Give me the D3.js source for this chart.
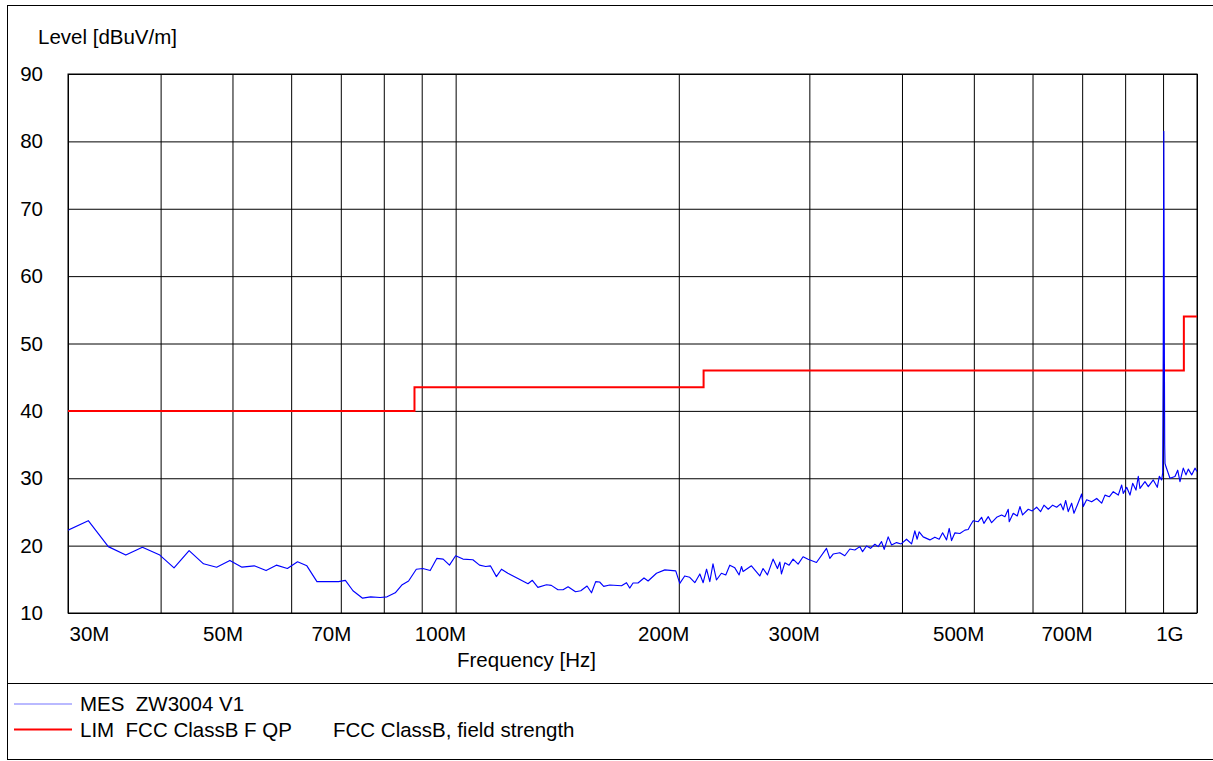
<!DOCTYPE html>
<html><head><meta charset="utf-8">
<script src="https://cdn.jsdelivr.net/npm/d3@7"></script>
<style>
body{margin:0;background:#fff}
svg{display:block}
text{font-family:"Liberation Sans",Arial,sans-serif;fill:#000;white-space:pre}
</style>
</head><body>
<svg id="c" width="1213" height="761"></svg>
<script>
// ---- data (frequency in MHz, level in dBuV/m) ----
const mesFreq=[30.0,31.95,34.0,35.9,37.8,39.9,41.7,43.7,45.7,47.6,49.6,51.5,53.5,55.5,57.3,59.3,61.2,63.0,65.0,69.5,71.0,72.7,74.9,76.8,79.1,80.8,82.9,84.6,86.4,88.5,90.3,92.4,94.3,96.2,98.1,100,
102.3,105.5,107.7,109.8,111.4,113.5,115.3,117.6,125.2,126.9,129.1,132.6,134.6,137.4,139.6,141.8,145.1,147.5,150.4,152.5,154.5,156.4,158.4,161.4,167.4,170.0,171.7,173.5,176.2,179.5,181.8,186.6,191.5,198.1,
200.6,203.7,206.9,210.2,213.5,215.7,218.0,220.2,222.4,224.8,228.3,231.4,234.3,238.0,241.2,243.0,244.2,250.6,253.2,257.2,259.8,263.4,268.0,271.7,273.7,275.1,278.0,281.7,285.2,289.7,294.2,298.8,
306.7,316.4,319.7,323.0,329.8,334.9,340.2,345.5,350.9,353.9,358.3,362.8,367.7,371.5,375.4,378.5,383.2,387.3,393.3,399.0,405.7,412.1,416.3,419.3,421.9,427.2,436.2,443.0,449.0,453.8,459.4,463.2,466.6,471.5,478.8,486.3,491.3,495.0,499.0,
506.9,512.2,515.9,522.9,528.4,536.7,545.1,550.7,556.4,558.1,565.1,572.2,577.0,581.8,592.1,599.5,607.7,615.3,621.7,630.0,638.7,646.7,654.7,660.1,665.0,670.4,677.5,682.4,689.4,698.9,702.4,709.8,721.0,732.3,743.7,751.4,761.5,771.0,783.1,791.4,795.3,
803.8,812.1,818.9,827.4,833.3,837.7,850.8,859.6,873.0,884.0,889.5,896.1,898.9,900.5,902.0,903.5,904.5,905.4,908.2,919.5,933.9,941.8,948.5,958.3,966.4,973.3,983.7,993.8,1000];
const mesLevel=[22.3,23.7,19.85,18.6,19.75,18.6,16.7,19.25,17.3,16.8,17.8,16.8,17.0,16.3,17.1,16.6,17.6,17.0,14.65,14.65,14.85,13.3,12.2,12.4,12.3,12.4,13.0,14.15,14.75,16.5,16.6,16.3,18.1,18.0,17.1,18.5,
18.0,17.9,17.1,16.9,17.0,15.4,16.5,15.9,14.35,14.85,13.8,14.2,14.1,13.45,13.45,13.9,13.15,13.3,14.0,13.0,14.65,14.6,13.95,14.15,14.05,14.5,13.7,14.45,14.45,15.2,14.75,15.9,16.4,16.25,
14.4,15.5,15.3,14.5,15.8,14.5,16.5,14.65,17.3,14.9,15.9,15.65,17.1,16.7,15.65,16.9,16.15,17.0,16.4,15.5,16.6,15.65,18.0,16.6,17.55,15.8,17.45,17.1,18.0,17.25,18.35,17.97,
17.5,19.6,18.1,18.75,18.95,18.5,19.5,19.35,19.85,19.1,19.95,19.6,20.2,19.85,20.6,19.45,21.3,20.1,20.45,20.25,20.95,20.25,22.2,20.95,22.05,21.3,20.85,21.25,20.95,21.9,20.85,22.55,20.75,21.9,21.8,22.3,22.4,23.05,23.7,
23.55,24.2,23.3,24.3,23.4,24.2,24.55,24.3,25.4,23.55,24.8,24.4,25.8,24.55,25.4,25.15,25.7,25.05,26.0,25.4,26.0,25.7,26.2,25.3,26.7,25.05,26.3,24.8,26.0,27.65,25.8,26.8,26.5,27.0,26.3,27.5,27.25,28.0,27.5,29.0,27.75,
28.65,27.5,29.25,28.25,30.3,28.5,29.5,28.75,29.75,28.65,30.3,29.75,30.8,50,81.5,50,35,32.2,31.7,30.0,30.25,31.2,29.5,31.5,30.5,31.35,30.5,31.5,31.0];

const limFreq=[30,88,88,216,216,960,960,1000];
const limLevel=[40,40,43.5,43.5,46,46,54,54];

const yTicks=[10,20,30,40,50,60,70,80,90];
const gridFreqs=[30,40,50,60,70,80,90,100,200,300,400,500,600,700,800,900,1000];
const xTickVals=[30,50,70,100,200,300,500,700,1000];
const xTickLabels=["30M","50M","70M","100M","200M","300M","500M","700M","1G"];

const legendItems=[
  {label:"MES  ZW3004 V1", extra:"", color:"#0000ff"},
  {label:"LIM  FCC ClassB F QP", extra:"FCC ClassB, field strength", color:"#ff0000"}
];

// ---- layout ----
const L=68, R=1197, T=74, B=613;
const FS=20.5;
const FF='"Liberation Sans",Arial,sans-serif';
const svg=d3.select("#c");
svg.append("rect").attr("width",1213).attr("height",761).attr("fill","#fff");

const x=d3.scaleLog().domain([30,1000]).range([L,R]);
const y=d3.scaleLinear().domain([10,90]).range([B,T]);

// outer frame and separator
svg.append("rect").attr("x",7.5).attr("y",5.5).attr("width",1213).attr("height",754)
  .attr("fill","none").attr("stroke","#000").attr("stroke-width",1);
svg.append("line").attr("x1",7).attr("x2",1213).attr("y1",683.5).attr("y2",683.5)
  .attr("stroke","#000").attr("stroke-width",1);

// grid via axes
const gy=svg.append("g").attr("transform",`translate(${L},0)`)
  .call(d3.axisLeft(y).tickValues(yTicks).tickSize(-(R-L)).tickPadding(25).tickFormat(d3.format("d")));
gy.select(".domain").remove();
gy.selectAll(".tick line").attr("stroke","#000");
gy.selectAll(".tick text").attr("font-size",FS).attr("font-family",FF);

const gx=svg.append("g").attr("transform",`translate(0,${B})`)
  .call(d3.axisBottom(x).tickValues(gridFreqs).tickSize(-(B-T)).tickFormat(""));
gx.select(".domain").remove();
gx.selectAll(".tick line").attr("stroke","#000");

// x labels
const gl=svg.append("g").attr("transform",`translate(0,${B})`)
  .call(d3.axisBottom(x).tickValues(xTickVals).tickSize(0).tickPadding(13)
    .tickFormat((d,i)=>xTickLabels[i]));
gl.select(".domain").remove();
gl.selectAll(".tick text").attr("font-size",FS).attr("font-family",FF)
  .attr("text-anchor","end")
  .each(function(d){
    const w=this.getComputedTextLength();
    const px=x(d);
    let right=px+10;
    if(right-w<L) right=L+1+w;
    if(right>R-14) right=R-14;
    d3.select(this).attr("dx",right-px);
  });

// plot border
svg.append("rect").attr("x",L).attr("y",T).attr("width",R-L).attr("height",B-T)
  .attr("fill","none").attr("stroke","#000").attr("stroke-width",1);

// clip
svg.append("clipPath").attr("id","clip").append("rect").attr("x",L).attr("y",T-2).attr("width",R-L).attr("height",B-T+4);

// limit line
const lim=limFreq.map((f,i)=>[f,limLevel[i]]);
svg.append("path").datum(lim).attr("clip-path","url(#clip)")
  .attr("d",d3.line().x(d=>x(d[0])).y(d=>y(d[1])))
  .attr("fill","none").attr("stroke","#ff0000").attr("stroke-width",2);

// measurement
const mes=mesFreq.map((f,i)=>[f,mesLevel[i]]);
svg.append("path").datum(mes).attr("clip-path","url(#clip)")
  .attr("d",d3.line().x(d=>x(d[0])).y(d=>y(d[1])))
  .attr("fill","none").attr("stroke","#0000ff").attr("stroke-width",1.15).attr("stroke-linejoin","round");

// titles
svg.append("text").attr("x",38).attr("y",44).attr("font-size",FS).text("Level [dBuV/m]");
svg.append("text").attr("x",457).attr("y",667).attr("font-size",FS).text("Frequency [Hz]");

// legend
legendItems.forEach((it,i)=>{
  const yy=704+i*25.5;
  svg.append("line").attr("x1",14).attr("x2",72).attr("y1",yy).attr("y2",yy)
    .attr("stroke",it.color).attr("stroke-width",i===0?1:2).attr("stroke-opacity",i===0?0.55:1);
  svg.append("text").attr("x",80).attr("y",yy+7).attr("font-size",FS).text(it.label);
  if(it.extra) svg.append("text").attr("x",333).attr("y",yy+7).attr("font-size",FS).text(it.extra);
});
</script>
</body></html>
